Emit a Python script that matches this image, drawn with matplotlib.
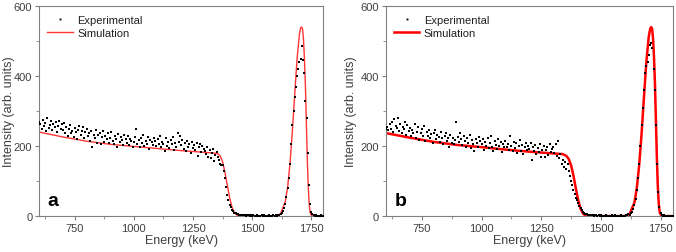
import matplotlib
matplotlib.use("Agg")
import matplotlib.pyplot as plt
from matplotlib.ticker import MultipleLocator

plt.rcParams['font.family'] = ['Liberation Sans', 'DejaVu Sans']

# measured channels (keV), shared by both panels
energy_exp = [
    600, 605, 610, 615, 620, 625, 630, 635, 640, 645, 650, 655, 660, 665, 670, 675, 680, 685, 690, 695,
    700, 705, 710, 715, 720, 725, 730, 735, 740, 745, 750, 755, 760, 765, 770, 775, 780, 785, 790, 795,
    800, 805, 810, 815, 820, 825, 830, 835, 840, 845, 850, 855, 860, 865, 870, 875, 880, 885, 890, 895,
    900, 905, 910, 915, 920, 925, 930, 935, 940, 945, 950, 955, 960, 965, 970, 975, 980, 985, 990, 995,
    1000, 1005, 1010, 1015, 1020, 1025, 1030, 1035, 1040, 1045, 1050, 1055, 1060, 1065, 1070, 1075, 1080, 1085, 1090, 1095,
    1100, 1105, 1110, 1115, 1120, 1125, 1130, 1135, 1140, 1145, 1150, 1155, 1160, 1165, 1170, 1175, 1180, 1185, 1190, 1195,
    1200, 1205, 1210, 1215, 1220, 1225, 1230, 1235, 1240, 1245, 1250, 1255, 1260, 1265, 1270, 1275, 1280, 1285, 1290, 1295,
    1300, 1305, 1310, 1315, 1320, 1325, 1330, 1335, 1340, 1345, 1350, 1355, 1360, 1365, 1370, 1375, 1380, 1385, 1390, 1395,
    1400, 1405, 1410, 1415, 1420, 1425, 1430, 1435, 1440, 1445, 1450, 1455, 1460, 1465, 1470, 1475, 1480, 1485, 1490, 1495,
    1500, 1505, 1510, 1515, 1520, 1525, 1530, 1535, 1540, 1545, 1550, 1555, 1560, 1565, 1570, 1575, 1580, 1585, 1590, 1595,
    1600, 1605, 1610, 1615, 1620, 1625, 1630, 1635, 1640, 1645, 1650, 1655, 1660, 1665, 1670, 1675, 1680, 1685, 1690, 1695,
    1700, 1705, 1710, 1715, 1720, 1725, 1730, 1735, 1740, 1745, 1750, 1755, 1760, 1765, 1770, 1775, 1780, 1785, 1790, 1795,
    1800]

counts_a = [
    270, 262, 248, 275, 258, 266, 244, 279, 252, 260, 271, 247, 263, 255, 268, 240, 258, 273, 250, 262,
    245, 266, 238, 254, 229, 248, 260, 236, 243, 226, 252, 239, 219, 247, 256, 231, 244, 255, 223, 241,
    250, 228, 237, 215, 243, 196, 233, 222, 247, 210, 231, 238, 205, 226, 242, 213, 229, 219, 236, 208,
    224, 239, 215, 207, 230, 220, 198, 235, 212, 226, 218, 204, 232, 221, 209, 228, 202, 219, 215, 197,
    211, 225, 248, 205, 218, 196, 222, 209, 231, 200, 215, 207, 226, 192, 218, 211, 203, 224, 214, 199,
    220, 205, 228, 196, 213, 207, 186, 222, 200, 211, 194, 217, 205, 226, 190, 209, 198, 236, 213, 230,
    202, 218, 193, 209, 185, 214, 198, 206, 179, 211, 195, 203, 188, 210, 173, 197, 205, 183, 200, 192,
    185, 176, 196, 170, 188, 165, 180, 192, 158, 175, 183, 168, 160, 148, 145, 147, 128, 108, 82, 60,
    45, 32, 25, 18, 14, 10, 8, 6, 5, 4, 3, 4, 2, 3, 2, 1, 3, 2, 1, 2,
    1, 2, 1, 0, 2, 1, 1, 0, 2, 1, 3, 1, 0, 1, 2, 1, 0, 1, 2, 1,
    2, 1, 3, 4, 6, 9, 14, 22, 35, 55, 80, 110, 150, 205, 260, 300, 340, 370, 400, 420,
    440, 450, 485, 445, 410, 330, 280, 180, 90, 35, 12, 5, 2, 1, 2, 1, 0, 1, 2, 1,
    1]

counts_b = [
    250, 255, 245, 262, 248, 270, 240, 276, 258, 252, 279, 244, 262, 236, 255, 248, 270, 231, 260, 242,
    252, 228, 246, 238, 262, 222, 241, 255, 218, 236, 249, 230, 258, 214, 240, 228, 246, 222, 235, 210,
    238, 245, 219, 232, 226, 211, 240, 224, 205, 229, 236, 215, 222, 198, 231, 210, 224, 205, 218, 268,
    227, 212, 236, 219, 204, 230, 215, 198, 224, 209, 233, 195, 218, 206, 186, 221, 210, 197, 225, 214,
    205, 219, 188, 212, 201, 224, 195, 209, 230, 198, 186, 214, 204, 192, 221, 200, 211, 183, 207, 196,
    215, 198, 206, 190, 228, 201, 185, 212, 194, 208, 180, 199, 216, 187, 204, 178, 196, 210, 189, 201,
    193, 208, 160, 198, 186, 203, 176, 195, 184, 206, 170, 190, 200, 168, 188, 196, 175, 205, 182, 193,
    198, 180, 205, 172, 215, 165, 178, 148, 160, 140, 155, 135, 150, 128, 115, 100, 90, 75, 62, 52,
    45, 38, 28, 22, 16, 12, 10, 7, 5, 4, 3, 2, 4, 2, 1, 3, 2, 1, 2, 1,
    2, 1, 0, 1, 2, 1, 0, 1, 1, 2, 0, 1, 2, 1, 0, 1, 1, 2, 1, 0,
    1, 2, 3, 5, 4, 8, 12, 20, 32, 50, 75, 110, 150, 200, 260, 310, 360, 410, 430, 440,
    460, 490, 495, 480, 420, 360, 260, 150, 70, 25, 8, 3, 1, 2, 1, 0, 1, 1, 0, 1,
    1]

# simulated spectra
energy_sim_a = [600, 700, 800, 900, 1000, 1100, 1200, 1300, 1340, 1355, 1365, 1375, 1385, 1395,
                1405, 1415, 1425, 1435, 1445, 1460, 1600, 1620, 1640, 1650, 1660, 1670, 1680, 1690,
                1700, 1705, 1709, 1713, 1717, 1721, 1725, 1729, 1733, 1737, 1741, 1745, 1750, 1760, 1800]
sim_a = [240, 226, 214, 205, 199, 193, 187, 182, 180, 178, 172, 155, 125, 88,
         52, 25, 10, 3, 0.5, 0, 0, 7, 41, 83, 150, 242, 349, 451,
         521, 538, 540, 535, 505, 450, 375, 270, 165, 85, 35, 10, 2, 0, 0]

energy_sim_b = [600, 700, 800, 900, 1000, 1100, 1200, 1300, 1340, 1355, 1365, 1375, 1385, 1395,
                1405, 1415, 1425, 1435, 1445, 1460, 1600, 1620, 1640, 1650, 1660, 1670, 1680, 1690,
                1700, 1706, 1710, 1714, 1718, 1722, 1726, 1730, 1734, 1738, 1742, 1746, 1752, 1760, 1800]
sim_b = [237, 224, 212, 203, 197, 190, 184, 179, 177, 172, 163, 145, 115, 78,
         45, 20, 7, 2, 0.5, 0, 0, 6, 38, 80, 145, 235, 340, 440,
         512, 535, 540, 536, 508, 455, 380, 275, 168, 85, 35, 10, 2, 0, 0]

panels = [
    ('a', counts_a, energy_sim_a, sim_a, '#ff3535', 1.0, -0.085),
    ('b', counts_b, energy_sim_b, sim_b, '#ff0000', 1.8, -0.10),
]
positions = [[0.058, 0.142, 0.420, 0.830], [0.571, 0.142, 0.424, 0.830]]

fig = plt.figure(figsize=(6.76, 2.53), dpi=100)
grey = '#808080'
txt = '#404040'

for (lab, cnt, es, sim, col, lw, ylx), pos in zip(panels, positions):
    ax = fig.add_axes(pos)
    ax.plot(energy_exp, cnt, 's', color='black', markersize=1.7, markeredgewidth=0,
            label='Experimental', zorder=3)
    ax.plot(es, sim, '-', color=col, linewidth=lw, label='Simulation', zorder=2)
    ax.set_xlim(600, 1800)
    ax.set_ylim(0, 600)
    ax.xaxis.set_minor_locator(MultipleLocator(125))
    ax.yaxis.set_major_locator(MultipleLocator(200))
    ax.yaxis.set_minor_locator(MultipleLocator(100))
    ax.set_xticks([750, 1000, 1250, 1500, 1750])
    for s in ax.spines.values():
        s.set_color(grey)
        s.set_linewidth(0.8)
    ax.tick_params(which='both', direction='out', colors=grey, labelcolor=txt,
                   labelsize=8, pad=2)
    ax.tick_params(which='major', length=3, width=0.8)
    ax.tick_params(which='minor', length=2, width=0.6)
    ax.set_xlabel('Energy (keV)', fontsize=9, color=txt, labelpad=1)
    ax.set_ylabel('Intensity (arb. units)', fontsize=9, color=txt)
    ax.yaxis.set_label_coords(ylx, 0.5)
    ax.text(0.03, 0.035, lab, transform=ax.transAxes, fontsize=14, fontweight='bold',
            color='black', ha='left', va='bottom')
    leg = ax.legend(loc='upper left', frameon=False, fontsize=8, handlelength=2.3,
                    handletextpad=0.4, borderaxespad=0.3, labelspacing=0.25,
                    markerscale=0.8, bbox_to_anchor=(0.0, 0.995))
    for t in leg.get_texts():
        t.set_color('#202020')

fig.savefig('out.png', dpi=100)
